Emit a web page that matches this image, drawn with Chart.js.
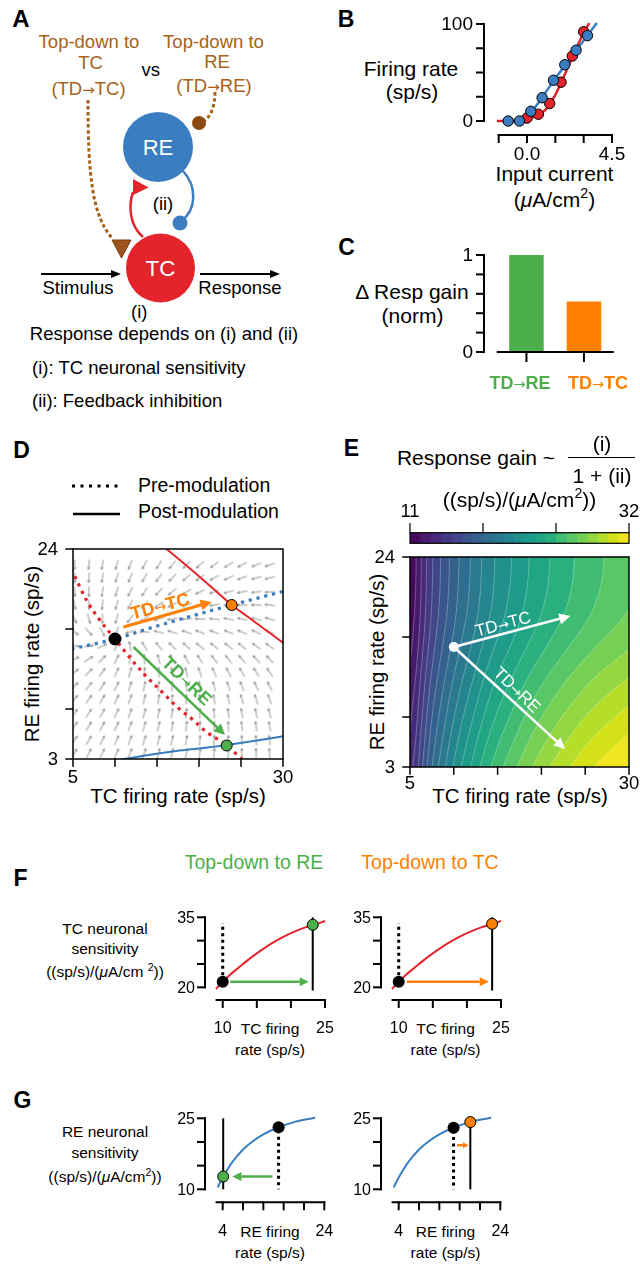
<!DOCTYPE html>
<html lang="en">
<head>
<meta charset="UTF-8">
<meta name="viewport" content="width=device-width, initial-scale=1.0">
<title>Top-down modulation of thalamic response gain</title>
<script src="https://cdn.jsdelivr.net/npm/chart.js"></script>
<style>
    body { margin: 0; background: #fff; font-family: "Liberation Sans", Arial, Helvetica, sans-serif; color: #000; }
    #fig { position: relative; width: 640px; height: 1265px; overflow: hidden; }
    #fig canvas { position: absolute; }
    .t { position: absolute; white-space: nowrap; line-height: 1; transform: translate(-50%, -50%); }
    .lt { position: absolute; white-space: nowrap; line-height: 1; transform: translate(0, -50%); }
    .lab { font-weight: bold; font-size: 23px; }
    .ar { font-family: "DejaVu Sans", sans-serif; font-weight: normal; font-size: 0.8em; }
    sup { font-size: 0.68em; vertical-align: 0.6em; line-height: 0; }
</style>
</head>
<body>
<div id="fig">
    <!-- A: circuit sketch -->
    <svg width="330" height="420" style="position:absolute;left:0;top:0" font-family="Liberation Sans, Arial, sans-serif">
        <text x="21" y="27" font-size="24" font-weight="bold" text-anchor="middle">A</text>
        <g fill="#a6611a" font-size="18.5" text-anchor="middle">
            <text x="89" y="48">Top-down to</text>
            <text x="90.5" y="68.5">TC</text>
            <text x="88.5" y="94.5">(TD<tspan font-family="DejaVu Sans" font-size="15">→</tspan>TC)</text>
            <text x="213.5" y="48">Top-down to</text>
            <text x="217" y="68">RE</text>
            <text x="214" y="91.5">(TD<tspan font-family="DejaVu Sans" font-size="15">→</tspan>RE)</text>
        </g>
        <text x="150.7" y="76" font-size="18.5" text-anchor="middle">vs</text>
        <path d="M88,100 C88,175 92,215 112,238" stroke="#a6611a" stroke-width="3" stroke-dasharray="3.5 2.5" fill="none"/>
        <polygon points="112,240 131,240 121.5,258" fill="#a0521e" stroke="#7a3d0a" stroke-width="1"/>
        <path d="M215,92 C215,108 210,118 202,122" stroke="#a6611a" stroke-width="3" stroke-dasharray="3.5 2.5" fill="none"/>
        <circle cx="199" cy="123" r="7" fill="#8b4a12"/>
        <path d="M143,237 C130,226 128,207 133,192" stroke="#e3242b" stroke-width="2.5" fill="none"/>
        <polygon points="133,179 148.5,187.5 133,195" fill="#e3242b"/>
        <path d="M183,171 C197,186 197,210 181,221" stroke="#3a7dc0" stroke-width="2.5" fill="none"/>
        <circle cx="180" cy="223" r="7.5" fill="#3a7dc0"/>
        <circle cx="158" cy="147" r="35" fill="#3a7dc0"/>
        <circle cx="160.5" cy="268" r="34.5" fill="#e3242b"/>
        <text x="158" y="155" font-size="22" fill="#fff" text-anchor="middle">RE</text>
        <text x="160.5" y="276" font-size="22.5" fill="#fff" text-anchor="middle">TC</text>
        <text x="163" y="209.5" font-size="18.5" text-anchor="middle">(ii)</text>
        <line x1="41" y1="274" x2="113" y2="274" stroke="#000" stroke-width="2"/>
        <polygon points="121,274 111,270 111,278" fill="#000"/>
        <line x1="200" y1="274" x2="272" y2="274" stroke="#000" stroke-width="2"/>
        <polygon points="280,274 270,270 270,278" fill="#000"/>
        <g font-size="18.5">
            <text x="78" y="294" text-anchor="middle">Stimulus</text>
            <text x="240" y="293.5" text-anchor="middle">Response</text>
            <text x="139.3" y="317.5" text-anchor="middle">(i)</text>
            <text x="164" y="339.5" text-anchor="middle">Response depends on (i) and (ii)</text>
            <text x="32" y="373.5">(i): TC neuronal sensitivity</text>
            <text x="32" y="406.5">(ii): Feedback inhibition</text>
        </g>
    </svg>

    <!-- B -->
    <div class="t lab" style="left:346px;top:18.5px">B</div>
    <div class="t" style="left:411px;top:68px;font-size:21px">Firing rate</div>
    <div class="t" style="left:412px;top:91px;font-size:21px">(sp/s)</div>
    <div class="t" style="left:554.5px;top:173px;font-size:21px">Input current</div>
    <div class="t" style="left:554.5px;top:199px;font-size:21px">(<i>μ</i>A/cm<sup>2</sup>)</div>
    <canvas id="chartB" width="220" height="220" style="left:420px;top:0px"></canvas>

    <!-- C -->
    <div class="t lab" style="left:346.5px;top:246.5px">C</div>
    <div class="t" style="left:412px;top:291px;font-size:21px">Δ Resp gain</div>
    <div class="t" style="left:412.5px;top:315px;font-size:21px">(norm)</div>
    <canvas id="chartC" width="220" height="170" style="left:420px;top:230px"></canvas>
    <div class="t" style="left:520px;top:383px;font-size:18px;font-weight:bold;color:#4daf4a">TD<span class="ar">→</span>RE</div>
    <div class="t" style="left:598px;top:383px;font-size:18px;font-weight:bold;color:#ff7f00">TD<span class="ar">→</span>TC</div>

    <!-- D -->
    <div class="t lab" style="left:21.5px;top:449.5px">D</div>
    <svg width="130" height="40" style="position:absolute;left:60px;top:480px">
        <line x1="12" y1="6" x2="58" y2="6" stroke="#000" stroke-width="3" stroke-dasharray="3 5.5"/>
        <line x1="13" y1="34" x2="60" y2="34" stroke="#000" stroke-width="2.5"/>
    </svg>
    <div class="lt" style="left:138px;top:486px;font-size:19.5px">Pre-modulation</div>
    <div class="lt" style="left:138px;top:512px;font-size:19.5px">Post-modulation</div>
    <div class="t" style="left:31.5px;top:654px;font-size:20.5px;transform:translate(-50%,-50%) rotate(-90deg)">RE firing rate (sp/s)</div>
    <div class="t" style="left:178px;top:796px;font-size:20.5px">TC firing rate (sp/s)</div>
    <canvas id="chartD" width="300" height="270" style="left:0px;top:530px"></canvas>
    <div class="t" style="left:160px;top:606px;font-size:18px;font-weight:bold;color:#ff7f00;transform:translate(-50%,-50%) rotate(-15deg)">TD<span class="ar">→</span>TC</div>
    <div class="t" style="left:187px;top:681px;font-size:18px;font-weight:bold;color:#4daf4a;transform:translate(-50%,-50%) rotate(44deg)">TD<span class="ar">→</span>RE</div>

    <!-- E -->
    <div class="t lab" style="left:351.5px;top:447.5px">E</div>
    <div class="t" style="left:476px;top:457px;font-size:21px">Response gain ~</div>
    <div class="t" style="left:602px;top:443px;font-size:21px">(i)</div>
    <div style="position:absolute;left:568px;top:457px;width:67px;border-top:1.6px solid #000"></div>
    <div class="t" style="left:602px;top:475px;font-size:21px">1 + (ii)</div>
    <div class="t" style="left:519.5px;top:499px;font-size:21px">((sp/s)/(<i>μ</i>A/cm<sup>2</sup>))</div>
    <div class="t" style="left:377px;top:662px;font-size:20.5px;transform:translate(-50%,-50%) rotate(-90deg)">RE firing rate (sp/s)</div>
    <div class="t" style="left:520px;top:796px;font-size:20.5px">TC firing rate (sp/s)</div>
    <canvas id="chartE" width="310" height="270" style="left:330px;top:530px"></canvas>
    <canvas id="chartCB" width="240" height="50" style="left:400px;top:500px"></canvas>
    <div class="t" style="left:503px;top:624px;font-size:17px;color:#fff;transform:translate(-50%,-50%) rotate(-15deg)">TD<span class="ar">→</span>TC</div>
    <div class="t" style="left:517px;top:690px;font-size:17px;color:#fff;transform:translate(-50%,-50%) rotate(44deg)">TD<span class="ar">→</span>RE</div>

    <!-- F -->
    <div class="t lab" style="left:20.5px;top:877.5px">F</div>
    <div class="t" style="left:254px;top:863px;font-size:19.5px;color:#4daf4a">Top-down to RE</div>
    <div class="t" style="left:430px;top:863px;font-size:19.5px;color:#ff7f00">Top-down to TC</div>
    <div class="t" style="left:105px;top:929px;font-size:15.5px">TC neuronal</div>
    <div class="t" style="left:105px;top:949px;font-size:15.5px">sensitivity</div>
    <div class="t" style="left:105px;top:972px;font-size:15.5px">((sp/s)/(<i>μ</i>A/cm <sup>2</sup>))</div>
    <div class="t" style="left:270px;top:1029px;font-size:15.5px">TC firing</div>
    <div class="t" style="left:270px;top:1050px;font-size:15.5px">rate (sp/s)</div>
    <div class="t" style="left:445.5px;top:1029px;font-size:15.5px">TC firing</div>
    <div class="t" style="left:445.5px;top:1050px;font-size:15.5px">rate (sp/s)</div>
    <canvas id="chartF1" width="190" height="145" style="left:150px;top:900px"></canvas>
    <canvas id="chartF2" width="190" height="145" style="left:325.5px;top:900px"></canvas>

    <!-- G -->
    <div class="t lab" style="left:22.5px;top:1099.5px">G</div>
    <div class="t" style="left:105px;top:1132px;font-size:15.5px">RE neuronal</div>
    <div class="t" style="left:105px;top:1153px;font-size:15.5px">sensitivity</div>
    <div class="t" style="left:105px;top:1177px;font-size:15.5px">((sp/s)/(<i>μ</i>A/cm<sup>2</sup>))</div>
    <div class="t" style="left:270px;top:1232px;font-size:15.5px">RE firing</div>
    <div class="t" style="left:270px;top:1253px;font-size:15.5px">rate (sp/s)</div>
    <div class="t" style="left:445.5px;top:1232px;font-size:15.5px">RE firing</div>
    <div class="t" style="left:445.5px;top:1253px;font-size:15.5px">rate (sp/s)</div>
    <canvas id="chartG1" width="190" height="165" style="left:150px;top:1100px"></canvas>
    <canvas id="chartG2" width="190" height="165" style="left:325.5px;top:1100px"></canvas>
</div>

<script>
    // ---------- data ----------
    // B: f-I curves, red = TC, blue = RE
    const tcCurrent = [0.0, 0.6, 1.2, 1.8, 2.4, 3.0];
    const tcRate = [3, 7, 18, 40, 67, 92];
    const reCurrent = [-1.0, -0.4, 0.2, 0.8, 1.4, 2.0, 2.6, 3.2];
    const reRate = [0, 0, 10, 24, 42, 58, 73, 88];
    const tcFitCurrent = [-1.6, -0.5, 0, 0.5, 1, 1.5, 2, 2.5, 3, 3.3];
    const tcFitRate = [0, 0, 1.5, 5.5, 12, 27, 48, 70, 91, 101];
    const reFitCurrent = [-1.2, -0.4, 0, 0.5, 1, 1.5, 2, 2.5, 3, 3.7];
    const reFitRate = [0, 0.3, 4, 16, 30, 44, 57, 70, 83, 101];
    const bCurrentTicks = [-1.5, 0, 1.5, 3, 4.5];
    const bRateTicks = [0, 25, 50, 75, 100];

    // C: normalised change in response gain
    const gainLabels = ['TD→RE', 'TD→TC'];
    const gainChange = [1.0, 0.52];
    const gainTicks = [0, 0.2, 0.4, 0.6, 0.8, 1.0];

    // D: phase plane (TC rate on x, RE rate on y)
    const preTcNullTC = [4.8, 6.6, 8, 10, 12, 13.8, 15.6, 17.4, 19.3, 20.9, 22.9, 25.1, 25.5];
    const preTcNullRE = [22.0, 18.9, 17.1, 15, 12.9, 11.2, 9.7, 8.2, 6.9, 5.7, 4.6, 3.0, 2.7];
    const preReNullTC = [4.8, 10, 15, 20, 23.9, 30.2];
    const preReNullRE = [14.0, 15.0, 16.3, 17.5, 18.4, 19.8];
    const postTcNullTC = [15.7, 18, 20.1, 22, 23.9, 25.6, 27.3, 30.2];
    const postTcNullRE = [24.3, 22.7, 21.2, 19.8, 18.4, 17.35, 16.3, 14.5];
    const postReNullTC = [10.5, 14, 17.3, 20.5, 23.3, 26.5, 30.2];
    const postReNullRE = [2.9, 3.4, 3.8, 4.1, 4.4, 4.8, 5.3];
    const fixedTC = [10, 23.9, 23.3];
    const fixedRE = [15, 18.4, 4.35];
    // flow field grid and arrow angles (deg, counter-clockwise), rows from low RE to high RE
    const flowTC = [5.2, 6.9, 8.5, 10.2, 11.8, 13.5, 15.2, 16.8, 18.5, 20.1, 21.8, 23.5, 25.1, 26.8, 28.4];
    const flowRE = [3.6, 4.9, 6.3, 7.6, 9.0, 10.3, 11.7, 13.0, 14.3, 15.7, 17.0, 18.4, 19.7, 21.1, 22.4];
    const flowAngle = [
        [60, 62, 64, 66, 69, 72, 75, 78, 80, 83, 85, 87, 90, 92, 94],
        [58, 60, 63, 66, 69, 72, 75, 78, 81, 84, 87, 90, 92, 95, 97],
        [56, 59, 62, 65, 69, 73, 77, 80, 83, 86, 90, 93, 96, 98, 101],
        [54, 57, 61, 65, 70, 74, 78, 82, 86, 90, 94, 97, 100, 103, 105],
        [50, 55, 60, 65, 70, 76, 81, 86, 90, 95, 99, 102, 106, 108, 111],
        [45, 51, 57, 64, 71, 78, 84, 91, 96, 101, 105, 109, 112, 115, 117],
        [37, 45, 54, 64, 74, 83, 92, 99, 105, 110, 115, 118, 121, 123, 125],
        [24, 34, 48, 64, 80, 94, 105, 113, 119, 123, 127, 129, 131, 133, 134],
        [-2, 7, 25, 63, 103, 121, 130, 135, 138, 140, 142, 142, 143, 144, 144],
        [-40, -47, -62, -108, -165, 175, 167, 163, 161, 159, 158, 157, 156, 155, 154],
        [-65, -75, -89, -107, -128, -147, -161, -171, -178, 178, 174, 170, 168, 166, 164],
        [-77, -86, -96, -107, -119, -132, -143, -153, -160, -167, -172, -176, 180, 177, 174],
        [-85, -91, -99, -107, -116, -124, -133, -141, -148, -155, -160, -165, -169, -173, -177],
        [-89, -94, -100, -107, -113, -120, -127, -134, -140, -146, -151, -156, -160, -164, -168],
        [-92, -96, -101, -106, -112, -118, -123, -129, -134, -139, -144, -149, -153, -157, -161]
    ];
    const phaseTicksTC = [5, 10, 15, 20, 25, 30];
    const phaseTicksRE = [3, 8, 16, 24];
    const tdTcShiftD = [[11.0, 16.2], [21.5, 18.7]];
    const tdReShiftD = [[12.2, 14.2], [23.1, 5.4]];

    // E: response-gain contours, TC rate where each level crosses these RE rates
    const contourRE = [3, 6, 9, 12, 15, 18, 21, 24];
    const contourLevels = [12, 13, 14, 15, 16, 17, 18, 19, 20, 21, 22, 23, 24, 25, 26, 27, 28, 29, 30, 31];
    const contourTC = [
        [3.88, 4.18, 4.49, 4.83, 5.2, 5.49, 5.65, 5.7],
        [4.6, 4.92, 5.26, 5.64, 5.93, 6.15, 6.26, 6.3],
        [5.32, 5.67, 5.93, 6.2, 6.5, 6.74, 6.86, 6.9],
        [5.94, 6.19, 6.46, 6.76, 7.1, 7.4, 7.55, 7.6],
        [6.43, 6.71, 7.01, 7.38, 7.82, 8.22, 8.43, 8.5],
        [6.94, 7.27, 7.64, 8.14, 8.69, 9.17, 9.42, 9.5],
        [7.52, 7.94, 8.44, 9.01, 9.65, 10.22, 10.5, 10.6],
        [8.23, 8.74, 9.31, 9.97, 10.73, 11.42, 11.78, 11.9],
        [9.03, 9.6, 10.27, 11.06, 11.97, 12.69, 13.07, 13.2],
        [9.9, 10.55, 11.35, 12.25, 13.2, 14.09, 14.55, 14.7],
        [10.83, 11.64, 12.51, 13.47, 14.63, 15.78, 16.39, 16.6],
        [11.91, 12.76, 13.73, 14.89, 16.41, 17.7, 18.38, 18.6],
        [12.98, 13.97, 15.16, 16.64, 18.32, 19.87, 20.71, 21.0],
        [14.19, 15.4, 16.84, 18.48, 20.54, 22.43, 23.46, 23.8],
        [15.63, 17.04, 18.62, 20.64, 23.13, 25.47, 26.76, 27.2],
        [17.22, 18.79, 20.74, 23.16, 26.21, 29.4, 31.3, 31.9],
        [18.94, 20.83, 23.18, 26.15, 30.3, 34, 35.9, 36.5],
        [20.93, 23.21, 26.04, 30.05, 34.8, 38, 40, 40],
        [23.21, 25.98, 29.77, 34.3, 38, 40, 40, 40],
        [25.91, 29.53, 33.9, 38, 40, 40, 40, 40]
    ];
    const startTC = 10, startRE = 15;
    const tdTcShiftE = [[10, 15], [23.3, 18.1]];
    const tdReShiftE = [[10, 15], [22.7, 4.8]];
    const cbLevels = [11, 12, 13, 14, 15, 16, 17, 18, 19, 20, 21, 22, 23, 24, 25, 26, 27, 28, 29, 30, 31, 32];
    const cbTicks = [11, 18, 25, 32];

    // F: TC neuronal sensitivity vs TC rate
    const fRate = [9.0, 10, 11, 12.4, 14, 16, 18, 20, 22, 24, 25];
    const fSens = [19.6, 21.2, 22.6, 24.3, 26.2, 28.3, 30.1, 31.6, 32.8, 33.7, 34.2];
    const fPre = [10, 21.2];
    const fPostRE = [23.2, 33.4];
    const fPostTC = [23.7, 33.6];
    const fShiftRE = [[11.1, 21.2], [22.6, 21.2]];
    const fShiftTC = [[11.2, 21.2], [23.2, 21.2]];
    const fTicksX = [10, 15, 20, 25];
    const fTicksY = [20, 25, 30, 35];

    // G: RE neuronal sensitivity vs RE rate
    const gRate = [3, 4, 5, 6, 8, 10, 12, 15, 18, 20, 22.2];
    const gSens = [10.4, 12.5, 14.3, 15.9, 18.4, 20.2, 21.6, 23.1, 24.2, 24.7, 25.1];
    const gPreRE = [15, 23.1];
    const gPostRE = [4.1, 12.7];
    const gPreTC = [14.8, 23.0];
    const gPostTC = [18.1, 24.2];
    const gShiftRE = [[13.8, 12.7], [5.9, 12.7]];
    const gShiftTC = [[15.5, 19.3], [17.8, 19.3]];
    const gTicksX = [4, 8, 12, 16, 20, 24];
    const gTicksY = [10, 15, 20, 25];

    // ---------- styling ----------
    const RED = '#e3242b', BLUE = '#3a7dc0', GREEN = '#4daf4a', ORANGE = '#ff7f00';
    const bandColors = ['#450a5c', '#481a6c', '#472a7a', '#443983', '#404688', '#39558c', '#34618d',
        '#2e6e8e', '#2a798e', '#25858e', '#21918c', '#1f9b8a', '#21a685', '#2ab07f', '#40bd72',
        '#59c765', '#75d054', '#94d741', '#b5de2b', '#d5e21a', '#f0e51f'];
    const FONT = '"Liberation Sans", Arial, sans-serif';

    Chart.defaults.font.family = FONT;
    Chart.defaults.animation = false;
    Chart.defaults.responsive = false;
    Chart.defaults.events = [];
    Chart.defaults.plugins.legend.display = false;
    Chart.defaults.plugins.tooltip.enabled = false;

    const pts = (xs, ys) => xs.map((x, i) => ({x, y: ys[i]}));

    // axes drawn offset from the plot, like the original figure
    const axisSpec = {
        chartB: { lw: 2, font: '19px ' + FONT,
            x: { gap: 14, len: 7, off: 20, span: [-1.5, 4.5], ticks: bCurrentTicks, labels: [[0, '0.0'], [4.5, '4.5']] },
            y: { gap: 14.7, len: 7, off: 11, span: [0, 100], ticks: bRateTicks, labels: [[0, '0'], [100, '100']] } },
        chartC: { lw: 2, font: '19px ' + FONT,
            x: { gap: 0, len: 9, off: 30, span: [-0.5, 1.5], ticks: [0, 1], labels: [] },
            y: { gap: 13.7, len: 7, off: 11, span: [0, 1], ticks: gainTicks, labels: [[0, '0'], [1, '1']] } },
        chartD: { lw: 1.5, box: true, font: '18.5px ' + FONT,
            x: { gap: 0, len: 7, off: 19, ticks: phaseTicksTC, labels: [[5, '5'], [30, '30']] },
            y: { gap: 0, len: 7, off: 15, ticks: phaseTicksRE, labels: [[3, '3'], [24, '24']] } },
        chartE: { lw: 1.5, box: true, font: '18.5px ' + FONT,
            x: { gap: 0, len: 7, off: 17, ticks: phaseTicksTC, labels: [[5, '5'], [30, '30']] },
            y: { gap: 0, len: 7, off: 15, ticks: phaseTicksRE, labels: [[3, '3'], [24, '24']] } },
        chartCB: { lw: 1.2, box: true, font: '18.5px ' + FONT,
            x: { side: 'top', gap: 0, len: 9, off: 21, ticks: cbTicks, labels: [[11, '11'], [32, '32']] } },
        chartF1: { lw: 2, font: '16px ' + FONT,
            x: { gap: 12.7, len: 7, off: 29, span: [9.1, 25], ticks: fTicksX, labels: [[10, '10'], [25, '25']] },
            y: { gap: 10.9, len: 7, off: 10, span: [20, 35], ticks: fTicksY, labels: [[20, '20'], [35, '35']] } },
        chartG1: { lw: 2, font: '16px ' + FONT,
            x: { gap: 13, len: 7, off: 29, span: [2.8, 24], ticks: gTicksX, labels: [[4, '4'], [24, '24']] },
            y: { gap: 11.6, len: 7, off: 10, span: [10, 25], ticks: gTicksY, labels: [[10, '10'], [25, '25']] } }
    };
    axisSpec.chartF2 = axisSpec.chartF1;
    axisSpec.chartG2 = axisSpec.chartG1;

    const offsetAxes = {
        id: 'offsetAxes',
        afterDraw(chart) {
            const spec = axisSpec[chart.canvas.id];
            if (!spec) return;
            const {ctx, chartArea: a} = chart;
            const sx = chart.scales.x, sy = chart.scales.y;
            const seg = (x0, y0, x1, y1) => { ctx.beginPath(); ctx.moveTo(x0, y0); ctx.lineTo(x1, y1); ctx.stroke(); };
            ctx.save();
            ctx.strokeStyle = '#000';
            ctx.lineWidth = spec.lw;
            ctx.lineCap = 'square';
            if (spec.box) ctx.strokeRect(a.left, a.top, a.right - a.left, a.bottom - a.top);
            if (spec.x) {
                const o = spec.x;
                const up = o.side === 'top';
                const yy = up ? a.top - o.gap : a.bottom + o.gap;
                const dir = up ? -1 : 1;
                if (o.span) seg(sx.getPixelForValue(o.span[0]), yy, sx.getPixelForValue(o.span[1]), yy);
                o.ticks.forEach(v => { const p = sx.getPixelForValue(v); seg(p, yy, p, yy + dir * o.len); });
                ctx.textAlign = 'center';
                ctx.textBaseline = 'middle';
                o.labels.forEach(([v, s, c, f]) => {
                    ctx.fillStyle = c || '#000';
                    ctx.font = f || spec.font;
                    ctx.fillText(s, sx.getPixelForValue(v), yy + dir * o.off);
                });
            }
            if (spec.y) {
                const o = spec.y;
                const xx = a.left - o.gap;
                if (o.span) seg(xx, sy.getPixelForValue(o.span[0]), xx, sy.getPixelForValue(o.span[1]));
                o.ticks.forEach(v => { const p = sy.getPixelForValue(v); seg(xx - o.len, p, xx, p); });
                ctx.textAlign = 'right';
                ctx.textBaseline = 'middle';
                ctx.fillStyle = '#000';
                ctx.font = spec.font;
                o.labels.forEach(([v, s]) => ctx.fillText(s, xx - o.off, sy.getPixelForValue(v) + 1));
            }
            ctx.restore();
        }
    };

    // arrows (annotations) placed with the chart's own scales
    const arrowSpec = {
        chartD: [{seg: tdTcShiftD, color: ORANGE, w: 3, head: 11}, {seg: tdReShiftD, color: GREEN, w: 2.5, head: 11}],
        chartE: [{seg: tdTcShiftE, color: '#fff', w: 2.5, head: 11}, {seg: tdReShiftE, color: '#fff', w: 2.5, head: 11}],
        chartF1: [{seg: fShiftRE, color: GREEN, w: 2.5, head: 9}],
        chartF2: [{seg: fShiftTC, color: ORANGE, w: 2.5, head: 9}],
        chartG1: [{seg: gShiftRE, color: GREEN, w: 2.5, head: 9}],
        chartG2: [{seg: gShiftTC, color: ORANGE, w: 2.5, head: 6}]
    };

    const shiftArrows = {
        id: 'shiftArrows',
        afterDatasetDraw(chart, args) {
            if (!chart.data.datasets[args.index].arrowsAfter) return;
            const list = arrowSpec[chart.canvas.id] || [];
            const {ctx, scales: {x, y}} = chart;
            list.forEach(({seg, color, w, head}) => {
                const x0 = x.getPixelForValue(seg[0][0]), y0 = y.getPixelForValue(seg[0][1]);
                const x1 = x.getPixelForValue(seg[1][0]), y1 = y.getPixelForValue(seg[1][1]);
                const ang = Math.atan2(y1 - y0, x1 - x0);
                const bx = x1 - head * Math.cos(ang), by = y1 - head * Math.sin(ang);
                const hw = head * 0.5;
                ctx.save();
                ctx.strokeStyle = color;
                ctx.fillStyle = color;
                ctx.lineWidth = w;
                ctx.beginPath(); ctx.moveTo(x0, y0); ctx.lineTo(bx, by); ctx.stroke();
                ctx.beginPath();
                ctx.moveTo(x1, y1);
                ctx.lineTo(bx + hw * Math.sin(ang), by - hw * Math.cos(ang));
                ctx.lineTo(bx - hw * Math.sin(ang), by + hw * Math.cos(ang));
                ctx.closePath();
                ctx.fill();
                ctx.restore();
            });
        }
    };

    // lowest colour band sits under every contour fill
    const bandBackground = {
        id: 'bandBackground',
        beforeDatasetsDraw(chart) {
            if (chart.canvas.id !== 'chartE') return;
            const {ctx, chartArea: a} = chart;
            ctx.save();
            ctx.fillStyle = bandColors[0];
            ctx.fillRect(a.left, a.top, a.right - a.left, a.bottom - a.top);
            ctx.restore();
        }
    };

    function linearOptions(pad, xr, yr, extra) {
        return Object.assign({
            layout: {padding: pad},
            scales: {
                x: {type: 'linear', min: xr[0], max: xr[1], display: false},
                y: {type: 'linear', min: yr[0], max: yr[1], display: false}
            }
        }, extra || {});
    }

    const plugins = [bandBackground, shiftArrows, offsetAxes];

    // ---------- B ----------
    new Chart(document.getElementById('chartB'), {
        type: 'scatter',
        data: {
            datasets: [
                {data: pts(reCurrent, reRate), backgroundColor: BLUE, borderColor: '#000', borderWidth: 1, pointRadius: 5.2, clip: false, order: 1},
                {data: pts(tcCurrent, tcRate), backgroundColor: RED, borderColor: '#000', borderWidth: 1, pointRadius: 5.2, clip: false, order: 2},
                {data: pts(reFitCurrent, reFitRate), showLine: true, borderColor: BLUE, borderWidth: 2.5, pointRadius: 0, cubicInterpolationMode: 'monotone', clip: false, order: 3},
                {data: pts(tcFitCurrent, tcFitRate), showLine: true, borderColor: RED, borderWidth: 2.5, pointRadius: 0, cubicInterpolationMode: 'monotone', clip: false, order: 4}
            ]
        },
        options: linearOptions({left: 78.7, right: 28, top: 24, bottom: 99}, [-1.5, 4.5], [0, 100]),
        plugins
    });

    // ---------- C ----------
    new Chart(document.getElementById('chartC'), {
        type: 'bar',
        data: {
            labels: gainLabels,
            datasets: [{data: gainChange, backgroundColor: [GREEN, ORANGE], barPercentage: 0.6, categoryPercentage: 1}]
        },
        options: {
            layout: {padding: {left: 77.7, right: 27.3, top: 25, bottom: 48}},
            scales: {
                x: {type: 'category', display: false},
                y: {type: 'linear', min: 0, max: 1, display: false}
            }
        },
        plugins
    });

    // ---------- D ----------
    const arrowGlyph = (() => {
        const c = document.createElement('canvas');
        c.width = 16; c.height = 16;
        const g = c.getContext('2d');
        g.strokeStyle = '#9a9a9a'; g.fillStyle = '#9a9a9a'; g.lineWidth = 1;
        g.beginPath(); g.moveTo(2.5, 8); g.lineTo(11, 8); g.stroke();
        g.beginPath(); g.moveTo(13.5, 8); g.lineTo(10.3, 6.3); g.lineTo(10.3, 9.7); g.closePath(); g.fill();
        return c;
    })();
    const flow = [];
    flowRE.forEach((re, j) => flowTC.forEach((tc, i) => flow.push({x: tc, y: re, a: flowAngle[j][i]})));

    new Chart(document.getElementById('chartD'), {
        type: 'scatter',
        data: {
            datasets: [
                {data: flow, pointStyle: arrowGlyph, rotation: c => -(c.raw ? c.raw.a : 0), pointRadius: 8, order: 10},
                {data: pts(preTcNullTC, preTcNullRE), showLine: true, borderColor: RED, borderWidth: 3.2, borderDash: [3.2, 4.8], pointRadius: 0, cubicInterpolationMode: 'monotone', order: 9},
                {data: pts(preReNullTC, preReNullRE), showLine: true, borderColor: BLUE, borderWidth: 3.2, borderDash: [3.2, 4.8], pointRadius: 0, cubicInterpolationMode: 'monotone', order: 8},
                {data: pts(postTcNullTC, postTcNullRE), showLine: true, borderColor: RED, borderWidth: 2, pointRadius: 0, cubicInterpolationMode: 'monotone', order: 7},
                {data: pts(postReNullTC, postReNullRE), showLine: true, borderColor: BLUE, borderWidth: 2, pointRadius: 0, cubicInterpolationMode: 'monotone', order: 6, arrowsAfter: true},
                {data: pts(fixedTC, fixedRE), backgroundColor: ['#000', ORANGE, GREEN], borderColor: '#000', borderWidth: [0, 1, 1], pointRadius: [6.5, 5.5, 5.5], order: 1}
            ]
        },
        options: linearOptions({left: 73, right: 17, top: 19, bottom: 41}, [5, 30], [3, 24]),
        plugins
    });

    // ---------- E ----------
    const contourSets = contourLevels.map((lv, i) => ({
        data: pts(contourTC[i], contourRE),
        borderColor: 'rgba(255,255,255,0.35)',
        borderWidth: 0.8,
        backgroundColor: bandColors[lv - 11],
        fill: {value: 45},
        pointRadius: 0,
        cubicInterpolationMode: 'monotone',
        order: 100 - lv,
        arrowsAfter: lv === 31
    }));
    new Chart(document.getElementById('chartE'), {
        type: 'line',
        data: {
            datasets: contourSets.concat([
                {type: 'scatter', data: [{x: startTC, y: startRE}], backgroundColor: '#fff', borderWidth: 0, pointRadius: 5, order: 0}
            ])
        },
        options: linearOptions({left: 80, right: 11, top: 27, bottom: 33}, [5, 30], [3, 24], {indexAxis: 'y'}),
        plugins
    });

    // colour bar
    new Chart(document.getElementById('chartCB'), {
        type: 'bar',
        data: {
            labels: [''],
            datasets: bandColors.map((c, k) => ({
                data: [[cbLevels[k], cbLevels[k + 1]]], backgroundColor: c, borderWidth: 0,
                grouped: false, barPercentage: 1, categoryPercentage: 1
            }))
        },
        options: {
            indexAxis: 'y',
            layout: {padding: {left: 10, right: 11, top: 32.7, bottom: 6.7}},
            scales: {
                x: {type: 'linear', min: 11, max: 32, display: false},
                y: {type: 'category', display: false}
            }
        },
        plugins
    });

    // ---------- F and G ----------
    function sensitivityChart(id, rate, sens, color, pre, post, dotted, solid, postColor, pad, xr, yr) {
        new Chart(document.getElementById(id), {
            type: 'scatter',
            data: {
                datasets: [
                    {data: pts(rate, sens), showLine: true, borderColor: color, borderWidth: 2, pointRadius: 0, cubicInterpolationMode: 'monotone', clip: false, order: 5},
                    {data: dotted, showLine: true, borderColor: '#000', borderWidth: 3, borderDash: [3, 3.5], pointRadius: 0, clip: false, order: 4},
                    {data: solid, showLine: true, borderColor: '#000', borderWidth: 2, pointRadius: 0, clip: false, order: 3, arrowsAfter: true},
                    {data: [{x: pre[0], y: pre[1]}, {x: post[0], y: post[1]}], backgroundColor: ['#000', postColor], borderColor: '#000', borderWidth: [0, 1], pointRadius: [6, 5.5], clip: false, order: 1}
                ]
            },
            options: linearOptions(pad, xr, yr),
            plugins
        });
    }
    const padF = {left: 65.9, right: 15, top: 17.3, bottom: 57.7};
    const padG = {left: 66.6, right: 15.7, top: 18.3, bottom: 75.7};
    sensitivityChart('chartF1', fRate, fSens, RED, fPre, fPostRE,
        [{x: fPre[0], y: fPre[1]}, {x: fPre[0], y: 33.8}], [{x: fPostRE[0], y: 19.3}, {x: fPostRE[0], y: 35}], GREEN, padF, [9, 25], [20, 35]);
    sensitivityChart('chartF2', fRate, fSens, RED, fPre, fPostTC,
        [{x: fPre[0], y: fPre[1]}, {x: fPre[0], y: 33.8}], [{x: fPostTC[0], y: 19.3}, {x: fPostTC[0], y: 35}], ORANGE, padF, [9, 25], [20, 35]);
    sensitivityChart('chartG1', gRate, gSens, BLUE, gPreRE, gPostRE,
        [{x: gPreRE[0], y: 22.5}, {x: gPreRE[0], y: 10}], [{x: gPostRE[0], y: 10}, {x: gPostRE[0], y: 25}], GREEN, padG, [2.8, 24], [10, 25]);
    sensitivityChart('chartG2', gRate, gSens, BLUE, gPreTC, gPostTC,
        [{x: gPreTC[0], y: 22.4}, {x: gPreTC[0], y: 10}], [{x: gPostTC[0], y: 10}, {x: gPostTC[0], y: 24.2}], ORANGE, padG, [2.8, 24], [10, 25]);
</script>
</body>
</html>
